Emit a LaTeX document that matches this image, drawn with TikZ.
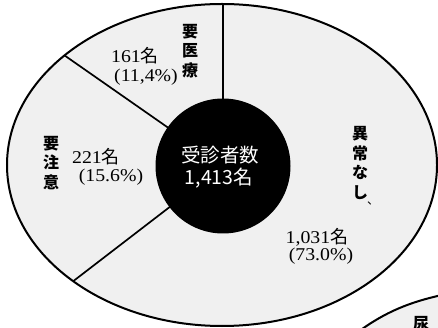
\documentclass[tikz,border=0pt]{standalone}
\usepackage{fontspec}
\usetikzlibrary{calc}
\setmainfont{Liberation Serif}[FakeStretch=1.1]
\newfontfamily\cjk{Noto Sans CJK JP}
\begin{document}
\begin{tikzpicture}[x=1pt,y=-1pt,
  outline/.style={line width=2pt,draw=black},
  spoke/.style={line width=1.7pt,draw=black},
  stipple/.style={fill=black!6},
  lbl/.style={font=\fontsize{18}{20}\selectfont,align=center,inner sep=0pt},
  vlbl/.style={font=\cjk\bfseries\fontsize{16}{19.5}\selectfont,align=center,inner sep=0pt},
  ctr/.style={font=\cjk\fontsize{19.5}{23}\selectfont,text=white,align=center,inner sep=0pt}]
\useasboundingbox (0,0) rectangle (438,328);
\clip (0,0) rectangle (438,328);
% second chart, partly visible at lower right
\fill[stipple] (358,332) .. controls (385,312) and (410,302) .. (442,295) -- (442,332) -- cycle;
\draw[outline] (358,332) .. controls (385,312) and (410,302) .. (442,295);
\node[vlbl] (nyo) at (421,324) {尿};
% main ellipse
\coordinate (c) at (223,166);
\draw[outline,stipple] (222,165) ellipse [x radius=215,y radius=161];
\coordinate (etop) at (223,4);
\coordinate (eul) at ($(222,165)+(137.1:215 and -161)$);
\coordinate (ell) at ($(222,165)+(226.2:215 and -161)$);
\draw[spoke] (c) -- (etop);
\draw[spoke] (c) -- (eul);
\draw[spoke] (c) -- (ell);
\node[circle,fill=black,minimum size=135pt,inner sep=0pt] (hub) at (c) {};
\node[ctr] (t1) at (220,155) {受診者数};
\node[ctr] (t2) at (219,178) {1,413名};
% labels
\node[vlbl] (a1) at (190,51) {要\\医\\療};
\node[lbl] (a2) at (135,56) {161{\cjk 名}};
\node[lbl] (a3) at (146,77) {(11,4\%)};
\node[vlbl] (b1) at (51,163) {要\\注\\意};
\node[lbl] (b2) at (96,157) {221{\cjk 名}};
\node[lbl] (b3) at (111,177) {(15.6\%)};
\node[vlbl] (d1) at (360,163) {異\\常\\な\\し};
\node[vlbl,font=\cjk\fontsize{12}{12}\selectfont] (d2) at (373,203) {、};
\node[lbl] (d3) at (317,237) {1,031{\cjk 名}};
\node[lbl] (d4) at (321,256) {(73.0\%)};
\end{tikzpicture}
\end{document}
